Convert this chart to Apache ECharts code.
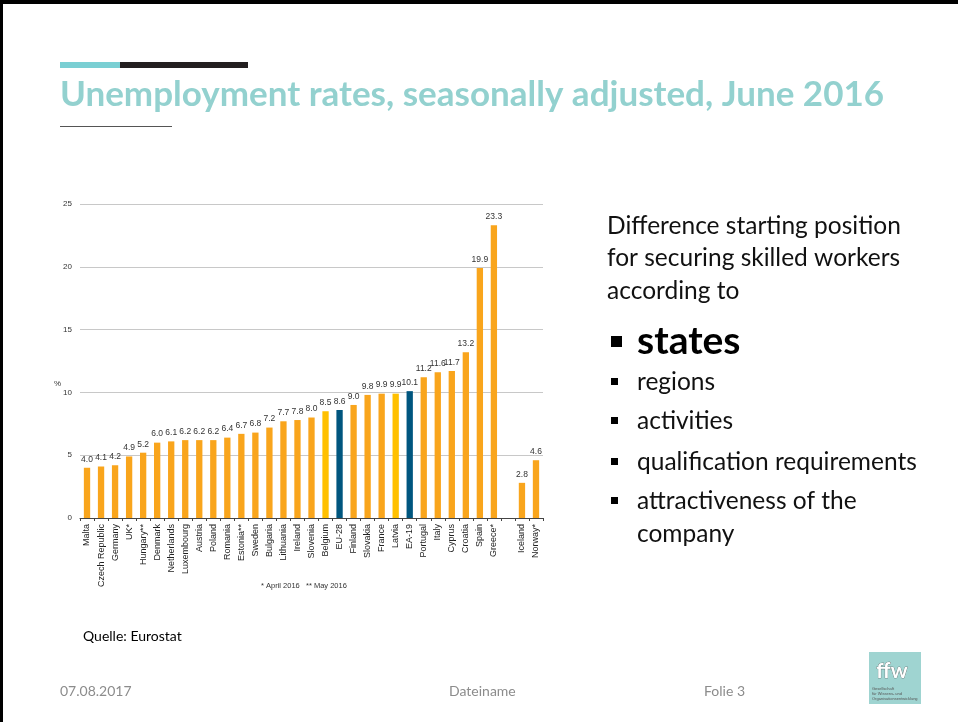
<!DOCTYPE html>
<html>
<head>
<meta charset="utf-8">
<script src="https://cdn.jsdelivr.net/npm/echarts@6/dist/echarts.min.js"></script>
<style>
html,body{margin:0;padding:0;background:#fff;}
#tu_1{width:958px;height:722px;}
</style>
</head>
<body>
<div id="tu_1"></div>
<script>
// Laender / Werte (Juni 2016, saisonbereinigt)
var laender = ['Malta','Czech Republic','Germany','UK*','Hungary**','Denmark','Netherlands','Luxembourg','Austria','Poland','Romania','Estonia**','Sweden','Bulgaria','Lithuania','Ireland','Slovenia','Belgium','EU-28','Finland','Slovakia','France','Latvia','EA-19','Portugal','Italy','Cyprus','Croatia','Spain','Greece*','','Iceland','Norway*'];
var werte = [4.0,4.1,4.2,4.9,5.2,6.0,6.1,6.2,6.2,6.2,6.4,6.7,6.8,7.2,7.7,7.8,8.0,8.5,8.6,9.0,9.8,9.9,9.9,10.1,11.2,11.6,11.7,13.2,19.9,23.3,'-',2.8,4.6];
var yTicks = [0,5,10,15,20,25];
var gelb = ['Belgium','Latvia'];
var blau = ['EU-28','EA-19'];

var myChart_1;
window.onresize=function () {
	if(myChart_1){ myChart_1.resize(); }
};

var narrow = '"Liberation Sans Narrow","Arial Narrow","Liberation Sans",sans-serif';
var slideFont = 'Lato,"Open Sans",sans-serif';

function txt(x,y,s,font,fill){
	return {type:'text', x:x, y:y, style:{text:s, font:font, fill:fill, verticalAlign:'middle'}};
}

function a1(){
	myChart_1 = echarts.init(document.getElementById('tu_1'));
	var daten = [];
	for(var i=0;i<werte.length;i++){
		var farbe = '#F9A51C';
		if(gelb.indexOf(laender[i])>=0){ farbe = '#FFC000'; }
		if(blau.indexOf(laender[i])>=0){ farbe = '#00567F'; }
		daten.push({value:werte[i], itemStyle:{color:farbe}});
	}
	var bullets = ['regions','activities','qualification requirements','attractiveness of the'];
	var bulletY = [382,421,462,501];
	var f24 = '24.5px '+slideFont;
	var graphic = [
		// Rahmen oben / links
		{type:'rect', shape:{x:0,y:0,width:958,height:4}, style:{fill:'#000'}},
		{type:'rect', shape:{x:0,y:0,width:3,height:722}, style:{fill:'#000'}},
		// Balken ueber dem Titel
		{type:'rect', shape:{x:60,y:62,width:60,height:6}, style:{fill:'#7ACFD3'}},
		{type:'rect', shape:{x:120,y:62,width:128,height:6}, style:{fill:'#231F20'}},
		txt(60,95,'Unemployment rates, seasonally adjusted, June 2016','bold 35px '+slideFont,'#93D1CF'),
		{type:'rect', shape:{x:60,y:126,width:112,height:1}, style:{fill:'#555'}},
		// rechter Text
		txt(607,226,'Difference starting position',f24,'#111'),
		txt(607,258,'for securing skilled workers',f24,'#111'),
		txt(607,291,'according to',f24,'#111'),
		{type:'rect', shape:{x:611,y:336,width:11,height:11}, style:{fill:'#000'}},
		txt(637,341,'states','bold 39px '+slideFont,'#000'),
		txt(637,534,'company',f24,'#111'),
		txt(83,636,'Quelle: Eurostat','14px '+slideFont,'#000'),
		txt(60,691,'07.08.2017','14px '+slideFont,'#8C8C8C'),
		txt(449,691,'Dateiname','14px '+slideFont,'#8C8C8C'),
		txt(704,691,'Folie 3','14px '+slideFont,'#8C8C8C'),
		// Logo
		{type:'rect', shape:{x:869,y:652,width:52,height:52}, style:{fill:'#9FD4D1'}},
		{type:'text', left:876, top:660, style:{text:'ffw', font:'bold 21px '+slideFont, fill:'#fff', stroke:'#555', lineWidth:0.6}},
		{type:'text', left:872, top:686, style:{text:'Gesellschaft\nfür Wissens- und\nOrganisationsentwicklung', font:'4px sans-serif', fill:'#555', lineHeight:5}},
		// Chart-Beschriftungen
		{type:'text', left:54, top:380, style:{text:'%', font:'8px '+narrow, fill:'#333'}},
		{type:'text', left:261, top:582, style:{text:'* April 2016', font:'7.5px '+narrow, fill:'#333'}},
		{type:'text', left:306, top:582, style:{text:'** May 2016', font:'7.5px '+narrow, fill:'#333'}}
	];
	for(var b=0;b<bullets.length;b++){
		graphic.push({type:'rect', shape:{x:611,y:bulletY[b]-4,width:7,height:7}, style:{fill:'#000'}});
		graphic.push(txt(637,bulletY[b],bullets[b],f24,'#111'));
	}

	var option = {
		animation:false,
		grid:{left:80, right:415, top:204, bottom:204},
		xAxis:{
			type:'category',
			data:laender,
			axisLine:{lineStyle:{color:'#444'}},
			axisTick:{show:true, interval:0, length:3, lineStyle:{color:'#444'}},
			axisLabel:{
				interval:0,
				rotate:90,
				margin:6,
				fontSize:9,
				fontFamily:narrow,
				color:'#222'
			}
		},
		yAxis:{
			type:'value',
			min:yTicks[0], max:yTicks[yTicks.length-1], interval:5,
			axisLine:{show:false},
			axisTick:{show:false},
			axisLabel:{fontSize:8, fontFamily:narrow, color:'#333', margin:8},
			splitLine:{lineStyle:{color:'#C8C8C8', width:1}}
		},
		series:[{
			name:'%',
			type:'bar',
			barWidth:'45%',
			data:daten,
			label:{
				show:true,
				position:'top',
				distance:4,
				fontSize:8.5,
				fontFamily:narrow,
				color:'#333',
				formatter:function(p){ return p.value.toFixed(1); }
			}
		}],
		graphic:graphic
	};
	myChart_1.setOption(option);
}
a1();
</script>
</body>
</html>
